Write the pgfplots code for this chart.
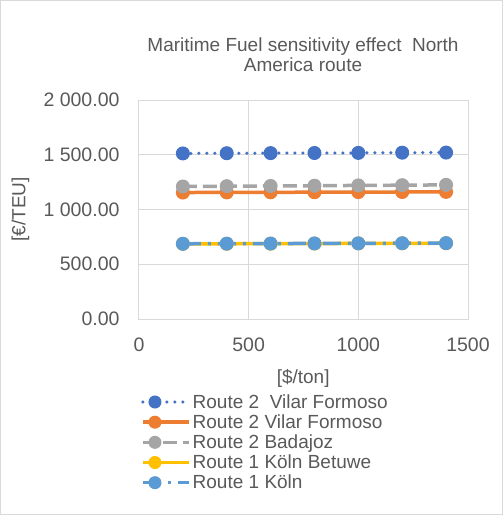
\documentclass[border=0pt]{standalone}
\usepackage{pgfplots}
\pgfplotsset{compat=1.18}
\usepackage{fontspec}
\setmainfont{Liberation Sans}
\definecolor{txt}{HTML}{595959}
\definecolor{grd}{HTML}{D9D9D9}
\definecolor{cA}{HTML}{4472C4}
\definecolor{cB}{HTML}{ED7D31}
\definecolor{cC}{HTML}{A5A5A5}
\definecolor{cD}{HTML}{FFC000}
\definecolor{cE}{HTML}{5B9BD5}
\begin{document}
\begin{tikzpicture}[x=1pt,y=1pt]
\draw[grd, line width=1pt] (0.5,0.5) rectangle (502.5,514.5);
\node[txt, font=\fontsize{19}{20}\selectfont, align=center] at (303,460) {Maritime Fuel sensitivity effect\ \ North\\America route};
\begin{axis}[
  at={(139pt,196pt)}, anchor=south west,
  scale only axis, width=329pt, height=219pt,
  xmin=0, xmax=1500, ymin=0, ymax=2000,
  xtick={0,500,1000,1500}, ytick={0,500,1000,1500,2000},
  grid=major, major grid style={grd, line width=1pt},
  axis line style={grd, line width=1pt},
  tick style={draw=none},
  ticklabel style={txt, font=\fontsize{19.5}{21}\selectfont},
  /pgf/number format/assume math mode=true,
  yticklabel style={xshift=-16pt, /pgf/number format/.cd, fixed, fixed zerofill, precision=2, 1000 sep={\ }},
  xticklabel style={yshift=-15pt, /pgf/number format/.cd, fixed, precision=0, 1000 sep={}},
  xlabel={[\$/ton]}, ylabel={[€/TEU]},
  label style={txt, font=\fontsize{19}{21}\selectfont},
  xlabel style={at={(rel axis cs:0.499,-0.272)}, anchor=center},
  ylabel style={at={(rel axis cs:-0.36,0.5)}, anchor=center, rotate=0},
  legend style={at={(-0.003,-0.325)}, anchor=north west, draw=none, fill=none,
    font=\fontsize{19}{21}\selectfont, text=txt, row sep=0.9pt},
  legend cell align=left,
  legend image code/.code={
    \draw[#1] (0pt,0pt) -- (46pt,0pt);
    \draw[#1, solid, mark size=6pt] plot coordinates {(12pt,0pt)};
  },
  every axis plot/.append style={mark=*, mark size=6.5pt, line width=3.5pt},
]
\addplot[cA, line cap=round, dash pattern=on 0pt off 8pt, mark options={solid, fill=cA, line width=1pt}] coordinates {(200,1512) (400,1514) (600,1515) (800,1516) (1000,1517) (1200,1519) (1400,1520)};
\addlegendentry{Route 2\ \ Vilar Formoso}
\addplot[cB, solid, mark options={fill=cB, line width=1pt}] coordinates {(200,1155) (400,1156) (600,1157) (800,1158) (1000,1159) (1200,1160) (1400,1161)};
\addlegendentry{Route 2 Vilar Formoso}
\addplot[cC, dash pattern=on 14pt off 6pt, mark options={solid, fill=cC, line width=1pt}] coordinates {(200,1210) (400,1213) (600,1215) (800,1217) (1000,1220) (1200,1222) (1400,1225)};
\addlegendentry{Route 2 Badajoz}
\addplot[cD, solid, mark options={fill=cD, line width=1pt}] coordinates {(200,686) (400,687) (600,688) (800,689) (1000,690) (1200,691) (1400,692)};
\addlegendentry{Route 1 Köln Betuwe}
\addplot[cE, dash pattern=on 18pt off 7pt on 3pt off 7pt, mark options={solid, fill=cE, line width=1pt}] coordinates {(200,687) (400,688) (600,689) (800,690) (1000,691) (1200,692) (1400,693)};
\addlegendentry{Route 1 Köln}
\end{axis}
\end{tikzpicture}
\end{document}
